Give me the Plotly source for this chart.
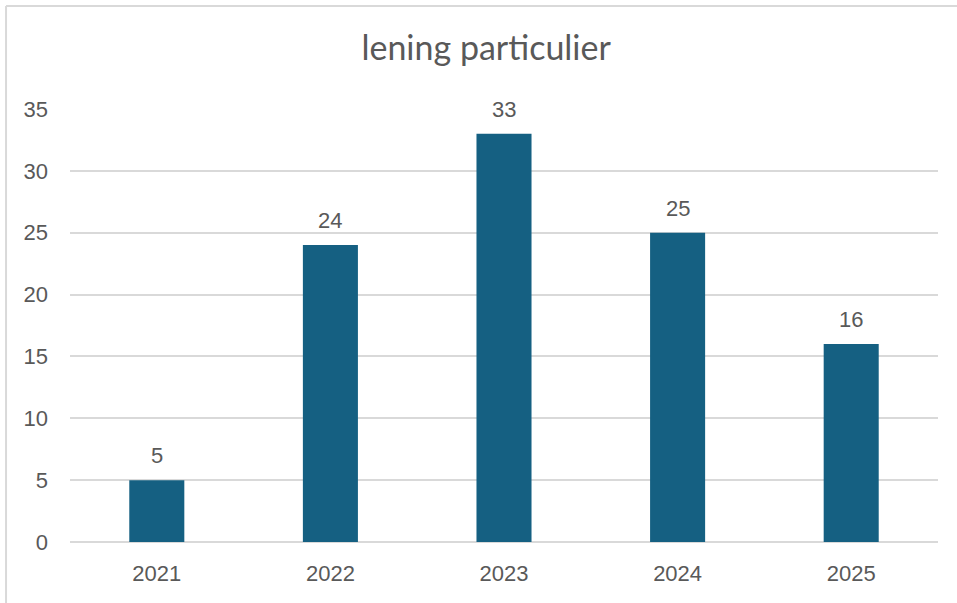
import plotly.graph_objects as go

years = ["2021", "2022", "2023", "2024", "2025"]
counts = [5, 24, 33, 25, 16]
y_ticks = [0, 5, 10, 15, 20, 25, 30, 35]

bar_color = "#156082"
text_grey = "#595959"
grid_grey = "#d9d9d9"
font_family = "Liberation Sans, Arial, sans-serif"

fig = go.Figure(
    go.Bar(
        x=years,
        y=counts,
        marker=dict(color=bar_color, line=dict(width=0)),
        hoverinfo="x+y",
    )
)

# data labels floating a bit above each bar (x is the category index)
for i, val in enumerate(counts):
    fig.add_annotation(
        x=i, y=val, text=str(val), showarrow=False,
        yanchor="bottom", yshift=10,
        font=dict(family=font_family, size=22, color=text_grey),
    )

# chart border (left and top edges visible, rest is cropped)
fig.add_shape(type="line", xref="paper", yref="paper",
              x0=-0.0737, x1=-0.0737, y0=-0.3, y1=1.238,
              line=dict(color=grid_grey, width=2))
fig.add_shape(type="line", xref="paper", yref="paper",
              x0=-0.0737, x1=1.1, y0=1.238, y1=1.238,
              line=dict(color=grid_grey, width=2))

fig.update_layout(
    width=957,
    height=603,
    margin=dict(l=70, r=19, t=109, b=61),
    paper_bgcolor="white",
    plot_bgcolor="white",
    bargap=0.683,
    showlegend=False,
    title=dict(
        text="lening particulier",
        x=0.508, xanchor="center",
        y=0.92, yanchor="middle",
        font=dict(family="Lato, sans-serif", size=34, color=text_grey),
    ),
    font=dict(family=font_family, color=text_grey),
    xaxis=dict(
        type="category",
        showgrid=False, showline=False, zeroline=False, ticks="",
        tickfont=dict(size=22, color=text_grey),
        ticklabelstandoff=16,
    ),
    yaxis=dict(
        range=[0, 35],
        tickvals=y_ticks,
        showgrid=True, gridcolor=grid_grey, gridwidth=2,
        zeroline=True, zerolinecolor=grid_grey, zerolinewidth=2,
        showline=False, ticks="",
        tickfont=dict(size=22, color=text_grey),
        ticklabelstandoff=21,
    ),
)

fig.write_html(
    "out.html",
    config={"displayModeBar": False},
    post_script="document.body.style.margin='0';",
)
